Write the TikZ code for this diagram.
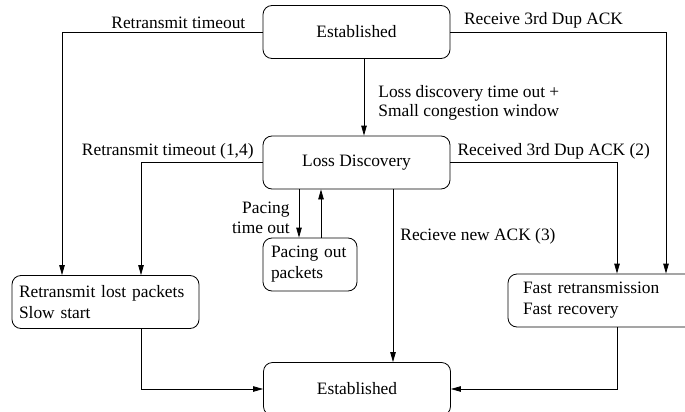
\documentclass[tikz,border=0pt]{standalone}
\usepackage{fontspec}
\setmainfont{Liberation Serif}
\usetikzlibrary{arrows.meta}
\tikzset{
	state/.style={draw, line width=0.8pt, rounded corners=9pt, minimum width=187pt, minimum height=53pt, inner sep=0pt},
	flow/.style={line width=0.8pt, -{Triangle[length=10pt,width=5.5pt]}},
	lbl/.style={inner sep=3pt},
}

\begin{document}
\begin{tikzpicture}[x=1pt, y=-1pt, font=\fontsize{17.4}{21}\selectfont]
			%%%%% START %%%%%
			
			\clip (0, 0) rectangle (685, 412);
			
			\node[state] (est1) at (356.5, 32) {Established};
			\node[state] (loss) at (356.5, 162.5) {Loss Discovery};
			\node[state, minimum width=94pt, text width=78pt, align=left] (pace) at (310, 264.5) {Pacing out\\packets};
			\node[state, text width=173pt, align=left] (retr) at (105.5, 302) {Retransmit lost packets\\Slow start};
			\node[state, text width=157pt, align=left] (fast) at (601.5, 300.5) {Fast retransmission\\Fast recovery};
			\node[state] (est2) at (357, 389) {Established};
			
			\draw[flow] (est1.west) -| node[lbl, above, pos=0.21] (l1) {Retransmit timeout} ([xshift=-43.5pt]retr.north);
			\draw[flow] (est1.east) -| node[lbl, above, pos=0.216] (l2) {Receive 3rd Dup ACK} ([xshift=64.5pt]fast.north);
			\draw[flow] ([xshift=7.5pt]est1.south) -- node[lbl, right=11pt, pos=0.57, align=left, font=\fontsize{17.4}{18.5}\selectfont] (l3) {Loss discovery time out +\\Small congestion window} ([xshift=7.5pt]loss.north);
			
			\draw[flow] (loss.west) -| node[lbl, above, pos=0.39] (l4) {Retransmit timeout (1,4)} ([xshift=35.5pt]retr.north);
			\draw[flow] (loss.east) -| node[lbl, above, pos=0.31] (l5) {Received 3rd Dup ACK (2)} ([xshift=15.5pt]fast.north);
			
			\draw[flow] ([xshift=-11pt]pace.north |- loss.south) -- node[lbl, left=6pt, pos=0.58, align=right, font=\fontsize{17.4}{20}\selectfont] (l6) {Pacing\\time out} ([xshift=-11pt]pace.north);
			\draw[flow] ([xshift=11pt]pace.north) -- ([xshift=11pt]pace.north |- loss.south);
			\draw[flow] ([xshift=36.5pt]loss.south) -- node[lbl, right=4pt, pos=0.27] (l7) {Recieve new ACK (3)} ([xshift=36.5pt]loss.south |- est2.north);
			
			\draw[flow] ([xshift=35.5pt]retr.south) |- (est2.west);
			\draw[flow] ([xshift=15.5pt]fast.south) |- (est2.east);
			
			%%%%% END %%%%%
\end{tikzpicture}
\end{document}
